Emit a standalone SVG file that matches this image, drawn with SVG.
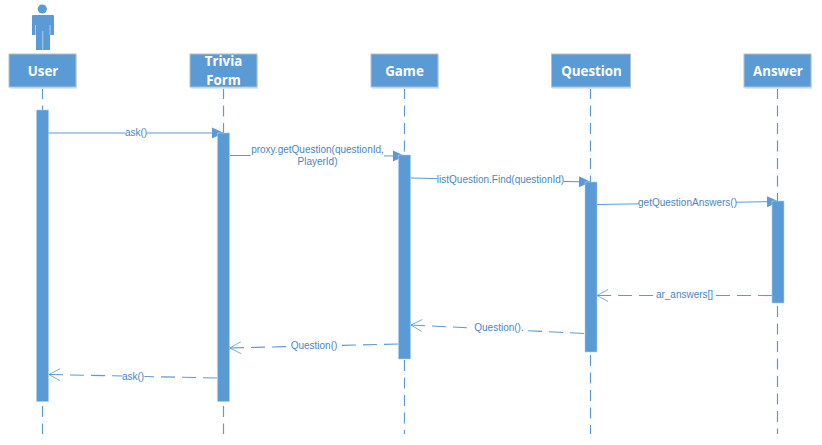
<svg xmlns="http://www.w3.org/2000/svg" width="822" height="445" viewBox="0 0 822 445">
<style>
.box{fill:#5b9bd5;stroke:#b4c0cc;stroke-width:1}
.shade{fill:#dfe8f2}
.bar{fill:#5b9bd5;stroke:#a9cdee;stroke-width:.6}
.title{font:bold 13.3px "Open Sans","Liberation Sans",sans-serif;fill:#fff;text-anchor:middle}
.lbl{font:10px "Liberation Sans",sans-serif;fill:#4a86c5;text-anchor:middle}
.life{stroke:#5b9bd5;stroke-width:1.2;stroke-dasharray:11 6.500;fill:none}
.msg{stroke:#5b9bd5;stroke-width:1.100;fill:none}
.ret{stroke:#5b9bd5;stroke-width:1.100;stroke-dasharray:14 7;fill:none}
.halo{fill:#fff;stroke:none}
.gap{stroke:#a9cdee;stroke-width:1;fill:none}
</style>
<defs>
<marker id="tri" markerUnits="userSpaceOnUse" markerWidth="13" markerHeight="12" refX="12" refY="6" orient="auto"><path d="M0 .5L12 6L0 11.500Z" fill="#5b9bd5"/></marker>
<marker id="open" markerUnits="userSpaceOnUse" markerWidth="14" markerHeight="14" refX="1" refY="7" orient="auto"><path d="M12 1L1 7L12 13" fill="none" stroke="#5b9bd5" stroke-width=".8"/></marker>
</defs>
<g id="connectors">
<path class="life" d="M42.500 88V110M42.500 406V434"/>
<path class="life" d="M223.500 88V133M223.500 406V434"/>
<path class="life" d="M404.500 88V155M404.500 360V434"/>
<path class="life" d="M590.500 88V182M590.500 355V434"/>
<path class="life" d="M777.500 88V201M777.500 306V434"/>
<path class="msg" marker-end="url(#tri)" d="M48 133H224"/>
<path class="msg" marker-end="url(#tri)" d="M230 155.500L405 156"/>
<path class="msg" marker-end="url(#tri)" d="M411 178L591 182"/>
<path class="msg" marker-end="url(#tri)" d="M597 204.500L779 201.500"/>
<path class="ret" marker-start="url(#open)" d="M597 295.500H655"/><path class="ret" d="M772 295.500H714"/>
<path class="ret" marker-start="url(#open)" d="M411 325L474 328.100"/><path class="ret" d="M584 333.500L528 330.700"/>
<path class="ret" marker-start="url(#open)" d="M230 348L288 346.600"/><path class="ret" d="M398 344L341 345.400"/>
<path class="ret" marker-start="url(#open)" d="M49 374.500L122.500 376"/><path class="ret" d="M217 378L144.500 376.500"/>
<g>
<rect class="halo" x="125.500" y="126" width="21" height="13"/>
<text class="lbl" x="136" y="136">ask()</text>
<rect class="halo" x="250.500" y="144" width="133.500" height="13"/>
<text class="lbl" x="317.500" y="153">proxy.getQuestion(questionId,</text>
<text class="lbl" x="317.500" y="165">PlayerId)</text>
<rect class="halo" x="437.500" y="174" width="126" height="13"/>
<text class="lbl" x="500.500" y="183">listQuestion.Find(questionId)</text>
<rect class="halo" x="639" y="197" width="97" height="13"/>
<text class="lbl" x="687.500" y="206">getQuestionAnswers()</text>
<text class="lbl" x="684.500" y="298">ar_answers[]</text>
<text class="lbl" x="499" y="331">Question().</text>
<text class="lbl" x="314" y="349">Question()</text>
<text class="lbl" x="133" y="380">ask()</text>
</g>
</g>
<g id="actor"><circle cx="42.300" cy="9" r="4.600" fill="#5b9bd5"/><path d="M33 15H53Q54 15 54 16V35H50V50H36V35H32V16Q32 15 33 15Z" fill="#5b9bd5"/><path class="gap" d="M42.800 31V50M35.500 25V35M50 25V35"/></g>
<g id="user"><rect class="shade" x="10" y="55" width="67" height="34"/><rect class="box" x="9" y="54" width="67" height="33"/><text class="title" x="43" y="76">User</text><rect class="bar" x="36.500" y="110" width="12" height="291.500"/></g>
<g id="trivia-form"><rect class="shade" x="191" y="55" width="67" height="34"/><rect class="box" x="190" y="54" width="67" height="33"/><text class="title" x="223.500" y="66">Trivia</text><text class="title" x="223.500" y="85">Form</text><rect class="bar" x="217.500" y="133" width="12" height="268.500"/></g>
<g id="game"><rect class="shade" x="372" y="55" width="67" height="34"/><rect class="box" x="371" y="54" width="67" height="33"/><text class="title" x="404.500" y="76">Game</text><rect class="bar" x="398.500" y="155" width="12" height="204"/></g>
<g id="question"><rect class="shade" x="552" y="55" width="79" height="34"/><rect class="box" x="551.500" y="54" width="79" height="33"/><text class="title" x="591.500" y="76">Question</text><rect class="bar" x="585" y="182" width="12" height="170"/></g>
<g id="answer"><rect class="shade" x="745" y="55" width="67" height="34"/><rect class="box" x="744" y="54" width="67" height="33"/><text class="title" x="778" y="76">Answer</text><rect class="bar" x="772" y="201" width="12" height="102"/></g>
</svg>
